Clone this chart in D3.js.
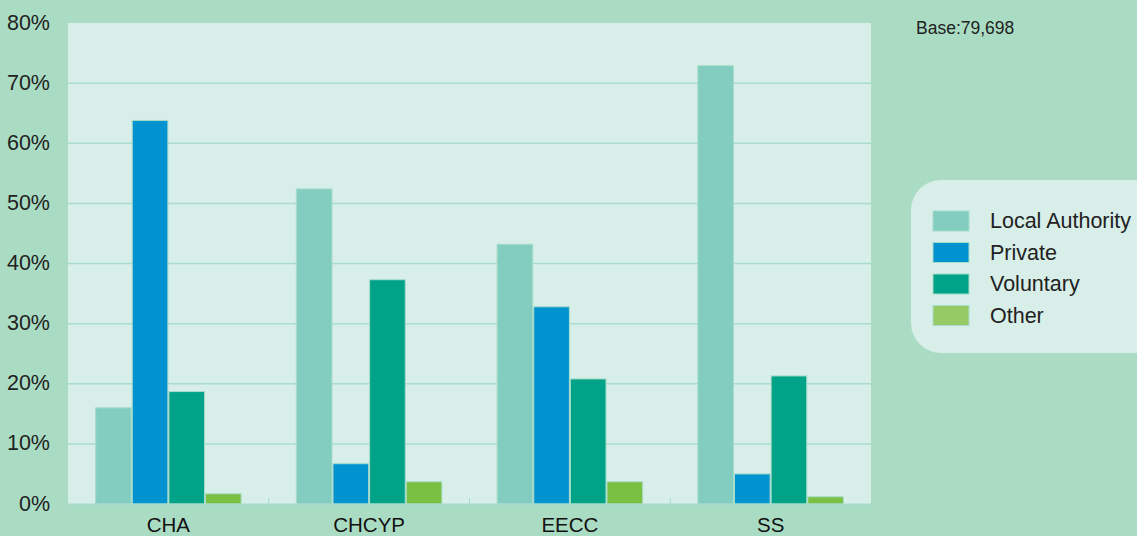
<!DOCTYPE html>
<html>
<head>
<meta charset="utf-8">
<script src="https://cdn.jsdelivr.net/npm/d3@7"></script>
<style>
  body { margin: 0; background: #aadcc4; }
  svg { display: block; font-family: "Liberation Sans", Arial, sans-serif; }
</style>
</head>
<body>
<div id="chart"></div>
<script>
var categories = ["CHA", "CHCYP", "EECC", "SS"];
var seriesNames = ["Local Authority", "Private", "Voluntary", "Other"];
var localAuthority = [16.0, 52.4, 43.2, 72.9];
var privateSector = [63.8, 6.7, 32.8, 5.0];
var voluntary = [18.7, 37.3, 20.8, 21.3];
var other = [1.7, 3.7, 3.7, 1.2];
var yTicks = [0, 10, 20, 30, 40, 50, 60, 70, 80];
var baseLabel = "Base:79,698";

var barColors = ["#82cdc0", "#0093d0", "#00a387", "#7ac143"];
var legendColors = ["#82cdc0", "#0093d0", "#00a387", "#96ca64"];

var svgWidth = 1137;
var svgHeight = 536;

var margin = { top: 23, right: 266, bottom: 32, left: 68 };
var width = svgWidth - margin.left - margin.right;
var height = svgHeight - margin.top - margin.bottom;

var svg = d3.select("#chart")
    .append("svg")
    .attr("width", svgWidth)
    .attr("height", svgHeight);

svg.append("rect")
    .attr("width", svgWidth)
    .attr("height", svgHeight)
    .attr("fill", "#aadcc4");

var chartGroup = svg.append("g")
    .attr("transform", `translate(${margin.left}, ${margin.top})`);

// plot background
chartGroup.append("rect")
    .attr("width", width)
    .attr("height", height)
    .attr("fill", "#d8eee8");

var data = categories.map(function (c, i) {
    return { cat: c, values: [localAuthority[i], privateSector[i], voluntary[i], other[i]] };
});

var x0 = d3.scaleBand()
    .domain(categories)
    .range([0, width])
    .paddingInner(0)
    .paddingOuter(0);

var x1 = d3.scaleBand()
    .domain(seriesNames)
    .range([0, x0.bandwidth()])
    .paddingOuter(0.74)
    .paddingInner(0.0);

var y = d3.scaleLinear()
    .domain([0, 80])
    .range([height, 0]);

// gridlines
chartGroup.append("g")
    .selectAll("line")
    .data(yTicks.filter(d => d > 0 && d < 80))
    .enter()
    .append("line")
    .attr("x1", 0)
    .attr("x2", width)
    .attr("y1", d => y(d))
    .attr("y2", d => y(d))
    .attr("stroke", "#a8dccb")
    .attr("stroke-width", 1.5);

// bars
var groups = chartGroup.selectAll(".grp")
    .data(data)
    .enter()
    .append("g")
    .attr("transform", d => `translate(${x0(d.cat)}, 0)`);

groups.selectAll("rect")
    .data(d => d.values.map((v, i) => ({ name: seriesNames[i], value: v, i: i })))
    .enter()
    .append("rect")
    .attr("x", d => x1(d.name) + 0.5)
    .attr("width", x1.bandwidth() - 1)
    .attr("y", d => y(d.value))
    .attr("height", d => height - y(d.value))
    .attr("fill", d => barColors[d.i])
    .attr("stroke", "#a8dccb")
    .attr("stroke-width", 1);

// x axis
var xAxis = d3.axisBottom(x0).tickSize(0).tickPadding(13);
var xg = chartGroup.append("g")
    .attr("transform", `translate(0, ${height})`)
    .call(xAxis);
xg.select(".domain").attr("stroke", "#a8dccb").attr("stroke-width", 2);
xg.selectAll("text").attr("font-size", 20.5).attr("fill", "#111");

// band separators on x axis
chartGroup.append("g")
    .selectAll("line")
    .data(categories.slice(1))
    .enter()
    .append("line")
    .attr("x1", d => x0(d))
    .attr("x2", d => x0(d))
    .attr("y1", height - 6)
    .attr("y2", height)
    .attr("stroke", "#a8dccb");

// y axis
var yAxis = d3.axisLeft(y).tickValues(yTicks).tickSize(0).tickPadding(18).tickFormat(d => d + "%");
var yg = chartGroup.append("g").call(yAxis);
yg.select(".domain").remove();
yg.selectAll("text").attr("font-size", 21.5).attr("fill", "#222").attr("dy", "0.28em");

// base label
svg.append("text")
    .attr("x", 916)
    .attr("y", 34)
    .attr("font-size", 17.5)
    .attr("fill", "#222")
    .text(baseLabel);

// legend
var legend = svg.append("g").attr("transform", "translate(911, 180)");
legend.append("rect")
    .attr("width", 260)
    .attr("height", 173)
    .attr("rx", 30)
    .attr("fill", "#d8eee8");

var items = legend.selectAll(".item")
    .data(seriesNames)
    .enter()
    .append("g")
    .attr("transform", (d, i) => `translate(22, ${31 + i * 31.5})`);

items.append("rect")
    .attr("width", 36)
    .attr("height", 20)
    .attr("fill", (d, i) => legendColors[i])
    .attr("stroke", "#a8dccb");

items.append("text")
    .attr("x", 57)
    .attr("y", 17)
    .attr("font-size", 21.5)
    .attr("fill", "#222")
    .text(d => d);
</script>
</body>
</html>
